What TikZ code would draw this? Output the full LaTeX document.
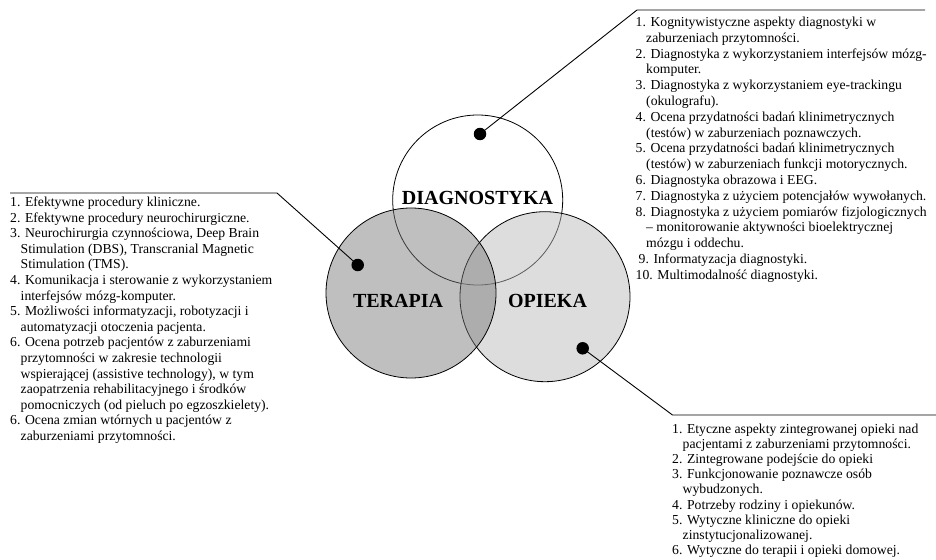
\documentclass[tikz,border=0pt]{standalone}
\usepackage{fontspec}
\setmainfont{Liberation Serif}
\tikzset{
  setcircle/.style={circle, draw, line width=0.8pt, minimum size=170pt, inner sep=0pt},
  setname/.style={font=\fontsize{20}{24}\selectfont\bfseries, inner sep=0pt},
  listtext/.style={anchor=base west, inner sep=0pt, font=\fontsize{13.7}{#1}\selectfont},
  callout/.style={line width=0.9pt},
  pin/.style={circle, fill=black, inner sep=0pt, minimum size=12.5pt}
}
\newcommand{\cont}{\hspace*{10.5pt}}
\begin{document}
\begin{tikzpicture}[x=1pt,y=-1pt]
  \useasboundingbox (0,0) rectangle (936,559);
  \node[setcircle, fill=white] (diag) at (477.7,200) {};
  \node[setcircle, fill=black!27, fill opacity=0.49] (opi) at (545,296.7) {};
  \node[setcircle, fill=black!53, fill opacity=0.47] (ter) at (411,293) {};
  \node[setname] (diagLabel) at (477.5,198) {DIAGNOSTYKA};
  \node[setname] (terLabel) at (398,300.5) {TERAPIA};
  \node[setname] (opiLabel) at (547.5,300.5) {OPIEKA};
  \node[pin] (diagDot) at (480,134) {};
  \node[pin] (terDot) at (357.7,265) {};
  \node[pin] (opiDot) at (582.7,348.3) {};
  \coordinate (diagBend) at (637,10);
  \coordinate (diagEnd) at (925,10);
  \coordinate (terBend) at (277,193);
  \coordinate (terEnd) at (10,193);
  \coordinate (opiBend) at (672.5,415);
  \coordinate (opiEnd) at (936,415);
  \draw[callout] (diagDot.center) -- (diagBend) -- (diagEnd);
  \draw[callout] (terDot.center) -- (terBend) -- (terEnd);
  \draw[callout] (opiDot.center) -- (opiBend) -- (opiEnd);
  \node[listtext=15.8] (diagList) at (635.5,26.5) {\begin{tabular}[t]{@{}l@{}}
    1. Kognitywistyczne aspekty diagnostyki w\\
    \cont zaburzeniach przytomności.\\
    2. Diagnostyka z wykorzystaniem interfejsów mózg-\\
    \cont komputer.\\
    3. Diagnostyka z wykorzystaniem eye-trackingu\\
    \cont (okulografu).\\
    4. Ocena przydatności badań klinimetrycznych\\
    \cont (testów) w zaburzeniach poznawczych.\\
    5. Ocena przydatności badań klinimetrycznych\\
    \cont (testów) w zaburzeniach funkcji motorycznych.\\
    6. Diagnostyka obrazowa i EEG.\\
    7. Diagnostyka z użyciem potencjałów wywołanych.\\
    8. Diagnostyka z użyciem pomiarów fizjologicznych\\
    \cont – monitorowanie aktywności bioelektrycznej\\
    \cont mózgu i oddechu.\\
    \hspace*{3pt}9. Informatyzacja diagnostyki.\\
    10. Multimodalność diagnostyki.
  \end{tabular}};
  \node[listtext=15.6] (terList) at (10,206.5) {\begin{tabular}[t]{@{}l@{}}
    1. Efektywne procedury kliniczne.\\
    2. Efektywne procedury neurochirurgiczne.\\
    3. Neurochirurgia czynnościowa, Deep Brain\\
    \cont Stimulation (DBS), Transcranial Magnetic\\
    \cont Stimulation (TMS).\\
    4. Komunikacja i sterowanie z wykorzystaniem\\
    \cont interfejsów mózg-komputer.\\
    5. Możliwości informatyzacji, robotyzacji i\\
    \cont automatyzacji otoczenia pacjenta.\\
    6. Ocena potrzeb pacjentów z zaburzeniami\\
    \cont przytomności w zakresie technologii\\
    \cont wspierającej (assistive technology), w tym\\
    \cont zaopatrzenia rehabilitacyjnego i środków\\
    \cont pomocniczych (od pieluch po egzoszkielety).\\
    6. Ocena zmian wtórnych u pacjentów z\\
    \cont zaburzeniami przytomności.
  \end{tabular}};
  \node[listtext=15.2] (opiList) at (672,433) {\begin{tabular}[t]{@{}l@{}}
    1. Etyczne aspekty zintegrowanej opieki nad\\
    \cont pacjentami z zaburzeniami przytomności.\\
    2. Zintegrowane podejście do opieki\\
    3. Funkcjonowanie poznawcze osób\\
    \cont wybudzonych.\\
    4. Potrzeby rodziny i opiekunów.\\
    5. Wytyczne kliniczne do opieki\\
    \cont zinstytucjonalizowanej.\\
    6. Wytyczne do terapii i opieki domowej.
  \end{tabular}};
\end{tikzpicture}
\end{document}
